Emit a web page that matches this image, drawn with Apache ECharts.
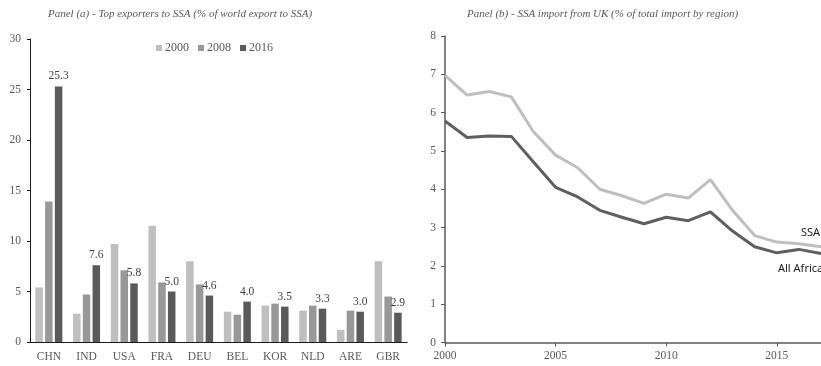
<!DOCTYPE html>
<html>
<head>
<meta charset="utf-8">
<script src="https://cdn.jsdelivr.net/npm/echarts@6/dist/echarts.min.js"></script>
<style>
  html, body { margin: 0; padding: 0; background: #fff; }
  #chart { width: 821px; height: 366px; }
</style>
</head>
<body>
<div id="chart"></div>
<script>
// Panel (a): top exporters to SSA, share of world exports to SSA (%)
const exporters = ['CHN', 'IND', 'USA', 'FRA', 'DEU', 'BEL', 'KOR', 'NLD', 'ARE', 'GBR'];
const share2000 = [5.4, 2.8, 9.7, 11.5, 8.0, 3.0, 3.6, 3.1, 1.2, 8.0];
const share2008 = [13.9, 4.7, 7.1, 5.9, 5.7, 2.7, 3.8, 3.6, 3.1, 4.5];
const share2016 = [25.3, 7.6, 5.8, 5.0, 4.6, 4.0, 3.5, 3.3, 3.0, 2.9];

// Panel (b): imports from the UK, % of total imports by region
const years = [2000, 2001, 2002, 2003, 2004, 2005, 2006, 2007, 2008,
               2009, 2010, 2011, 2012, 2013, 2014, 2015, 2016, 2017];
const yearTicks = [2000, 2005, 2010, 2015];
const ssaImport = [6.97, 6.46, 6.55, 6.41, 5.50, 4.89, 4.56, 4.00, 3.83,
                   3.63, 3.87, 3.77, 4.25, 3.45, 2.79, 2.62, 2.58, 2.50];
const africaImport = [5.78, 5.35, 5.39, 5.38, 4.71, 4.05, 3.80, 3.45, 3.27,
                      3.10, 3.27, 3.18, 3.41, 2.91, 2.50, 2.34, 2.43, 2.32];

const serif = 'Liberation Serif';
const sans = 'Noto Sans';
const grayText = '#595959';
const cLight = '#bfbfbf', cMid = '#989898', cDark = '#5a5a5a';

const chart = echarts.init(document.getElementById('chart'));

function barSeries(name, values, color, labelled) {
  return {
    name, type: 'bar', xAxisIndex: 0, yAxisIndex: 0,
    data: values,
    barWidth: 7.5, barGap: '30%',
    itemStyle: { color },
    label: labelled ? {
      show: true, position: 'top', distance: 4,
      fontFamily: serif, fontSize: 11.5, color: '#404040',
      formatter: p => p.value.toFixed(1)
    } : { show: false },
    emphasis: { disabled: true }
  };
}

// Line with its name written near the end of the line
function lineSeries(name, values, color, offset) {
  return {
    name, type: 'line', xAxisIndex: 1, yAxisIndex: 1,
    data: years.map((y, i) => [y, values[i]]),
    showSymbol: false,
    lineStyle: { color, width: 3 },
    itemStyle: { color },
    endLabel: {
      show: true, formatter: name, offset,
      fontFamily: sans, fontSize: 11, color: '#1a1a1a'
    },
    emphasis: { disabled: true },
    z: 3
  };
}

chart.setOption({
  animation: false,
  title: [
    {
      text: 'Panel (a) - Top exporters to SSA (% of world export to SSA)',
      left: 43, top: 4,
      textStyle: { fontFamily: serif, fontStyle: 'italic', fontWeight: 'normal', fontSize: 11, color: grayText }
    },
    {
      text: 'Panel (b) - SSA import from UK (% of total import by region)',
      left: 462, top: 4,
      textStyle: { fontFamily: serif, fontStyle: 'italic', fontWeight: 'normal', fontSize: 11, color: grayText }
    }
  ],
  legend: {
    data: ['2000', '2008', '2016'],
    left: 151, top: 37,
    icon: 'rect', itemWidth: 6, itemHeight: 6, itemGap: 9,
    textStyle: { fontFamily: serif, fontSize: 12, color: grayText, padding: [0, 0, 0, -2] }
  },
  grid: [
    { left: 30, top: 39, width: 377, height: 303 },
    { left: 445, top: 36, width: 376, height: 306.5 }
  ],
  xAxis: [
    {
      type: 'category', gridIndex: 0, data: exporters,
      axisLine: { lineStyle: { color: '#1a1a1a', width: 1 } },
      axisTick: { show: false },
      axisLabel: { fontFamily: serif, fontSize: 11.5, color: grayText, margin: 9 }
    },
    {
      type: 'value', gridIndex: 1, min: 2000, max: 2017,
      axisLine: { show: true, lineStyle: { color: '#595959', width: 1.5 } },
      axisTick: { show: true, length: 4, lineStyle: { color: '#595959' }, customValues: yearTicks },
      axisLabel: {
        fontFamily: serif, fontSize: 11.5, color: grayText, margin: 7,
        customValues: yearTicks, formatter: v => String(v)
      },
      splitLine: { show: false }
    }
  ],
  yAxis: [
    {
      type: 'value', gridIndex: 0, min: 0, max: 30, interval: 5,
      axisLine: { show: true, lineStyle: { color: '#1a1a1a', width: 1 } },
      axisTick: { show: true, length: 3, lineStyle: { color: '#1a1a1a' } },
      axisLabel: { fontFamily: serif, fontSize: 11.5, color: grayText, margin: 9 },
      splitLine: { show: false }
    },
    {
      type: 'value', gridIndex: 1, min: 0, max: 8, interval: 1,
      axisLine: { show: true, lineStyle: { color: '#595959', width: 1.5 } },
      axisTick: { show: true, length: 4, lineStyle: { color: '#595959' } },
      axisLabel: { fontFamily: serif, fontSize: 11.5, color: grayText, margin: 9 },
      splitLine: { show: false }
    }
  ],
  series: [
    barSeries('2000', share2000, cLight, false),
    barSeries('2008', share2008, cMid, false),
    barSeries('2016', share2016, cDark, true),
    lineSeries('SSA', ssaImport, '#bfbfbf', [-28, -14]),
    lineSeries('All Africa', africaImport, '#5f5f5f', [-51, 15])
  ]
});
</script>
</body>
</html>
